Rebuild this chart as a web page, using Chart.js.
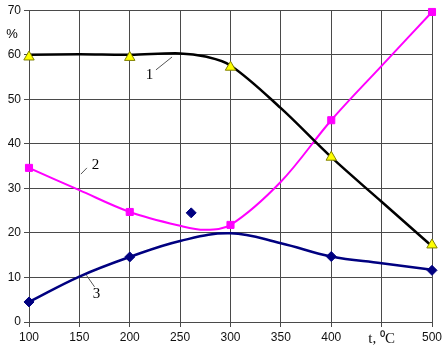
<!DOCTYPE html>
<html><head><meta charset="utf-8">
<script src="https://cdn.jsdelivr.net/npm/chart.js@4/dist/chart.umd.min.js"></script>
<style>html,body{margin:0;padding:0;background:#fff}#wrap{width:448px;height:350px}</style>
</head><body><div id="wrap"><canvas id="c"></canvas></div>
<script>
// Curve 1 (black)
const curve1X = [100,150,200,250,275,300,350,400,450,500];
const curve1Y = [60,60.1,60,60.3,59.6,57.6,48,37,27,17];
const marker1X = [100,200,300,400,500];
const marker1Y = [59.5,59.4,57.2,37,17.3];
// Curve 2 (magenta)
const curve2X = [100,150,200,250,275,300,350,400,450,500];
const curve2Y = [34.6,29.6,24.7,21.6,20.7,21.8,31.5,45.3,57.5,69.6];
const marker2X = [100,200,300,400,500];
const marker2Y = [34.6,24.7,21.8,45.3,69.6];
// Curve 3 (navy)
const curve3X = [100,150,200,250,300,350,400,450,500];
const curve3Y = [4.5,10.2,14.6,18.2,19.9,17.7,14.7,13.2,11.7];
const marker3X = [100,200,261,400,500];
const marker3Y = [4.5,14.6,24.5,14.7,11.6];
const xTicks = [100,150,200,250,300,350,400,450,500];
const xTickLabels = ['100','150','200','250','300','350','400','t, \u2070C','500'];

const pts = (xs, ys) => xs.map((x, i) => ({x, y: ys[i]}));

const notes = [
  {text:'1', x:219.5, y:55.4, lx1:226, ly1:56.6, lx2:242, ly2:59.5},
  {text:'2', x:166, y:35.2, lx1:151.5, ly1:33.2, lx2:157.5, ly2:34.6},
  {text:'3', x:167, y:6.3, lx1:157, ly1:10.5, lx2:165, ly2:7.9}
];

const extras = {
  id: 'extras',
  afterDraw(chart) {
    const {ctx, scales:{x, y}} = chart;
    ctx.save();
    ctx.fillStyle = '#000';
    ctx.font = '13px "Liberation Sans", Arial, sans-serif';
    ctx.textAlign = 'center';
    ctx.textBaseline = 'middle';
    ctx.fillText('%', 12, y.getPixelForValue(64.5));
    ctx.font = '15px "Liberation Serif", "Times New Roman", serif';
    notes.forEach(n => {
      ctx.fillText(n.text, x.getPixelForValue(n.x), y.getPixelForValue(n.y));
      ctx.beginPath();
      ctx.strokeStyle = '#555';
      ctx.lineWidth = 1;
      ctx.moveTo(x.getPixelForValue(n.lx1), y.getPixelForValue(n.ly1));
      ctx.lineTo(x.getPixelForValue(n.lx2), y.getPixelForValue(n.ly2));
      ctx.stroke();
    });
    ctx.restore();
  }
};

new Chart(document.getElementById('c'), {
  type: 'scatter',
  data: {
    datasets: [
      {data: pts(curve1X, curve1Y), showLine: true, borderColor: '#000', borderWidth: 2.5, pointRadius: 0, tension: 0.35, order: 5},
      {data: pts(curve2X, curve2Y), showLine: true, borderColor: '#ff00ff', borderWidth: 2, pointRadius: 0, tension: 0.35, order: 5},
      {data: pts(curve3X, curve3Y), showLine: true, borderColor: '#000080', borderWidth: 2.5, pointRadius: 0, tension: 0.4, order: 5},
      {data: pts(marker1X, marker1Y), pointStyle: 'triangle', pointRadius: 6, backgroundColor: '#ffff00', borderColor: '#808000', borderWidth: 1, order: 1, clip: false},
      {data: pts(marker2X, marker2Y), pointStyle: 'rect', pointRadius: 5, backgroundColor: '#ff00ff', borderColor: '#ff00ff', borderWidth: 1, order: 1, clip: false},
      {data: pts(marker3X, marker3Y), pointStyle: 'rectRot', pointRadius: 5, backgroundColor: '#000080', borderColor: '#000080', borderWidth: 1, order: 1, clip: false}
    ]
  },
  options: {
    responsive: true, maintainAspectRatio: false, animation: false,
    layout: {padding: {top: 10, right: 16, left: 0, bottom: 0}},
    plugins: {legend: {display: false}, tooltip: {enabled: false}},
    scales: {
      x: {
        type: 'linear', min: 100, max: 500,
        afterBuildTicks: s => { s.ticks = xTicks.map(v => ({value: v})); },
        afterFit: s => { s.height = 28; },
        grid: {color: '#4a4a4a', lineWidth: 1, tickLength: 5, drawTicks: true},
        border: {color: '#4a4a4a', width: 1},
        ticks: {
          color: '#111', padding: 3,
          font: ctx => (ctx.tick && ctx.tick.value === 450) ? {family: '"Liberation Serif", serif', size: 15} : {family: '"Liberation Sans", Arial, sans-serif', size: 12},
          callback: (v) => xTickLabels[xTicks.indexOf(v)]
        }
      },
      y: {
        min: 0, max: 70,
        afterFit: s => { s.width = 29; },
        grid: {color: '#4a4a4a', lineWidth: 1, tickLength: 5},
        border: {color: '#4a4a4a', width: 1},
        ticks: {stepSize: 10, color: '#111', padding: 3, font: {family: '"Liberation Sans", Arial, sans-serif', size: 12}}
      }
    }
  },
  plugins: [extras]
});
</script></body></html>
